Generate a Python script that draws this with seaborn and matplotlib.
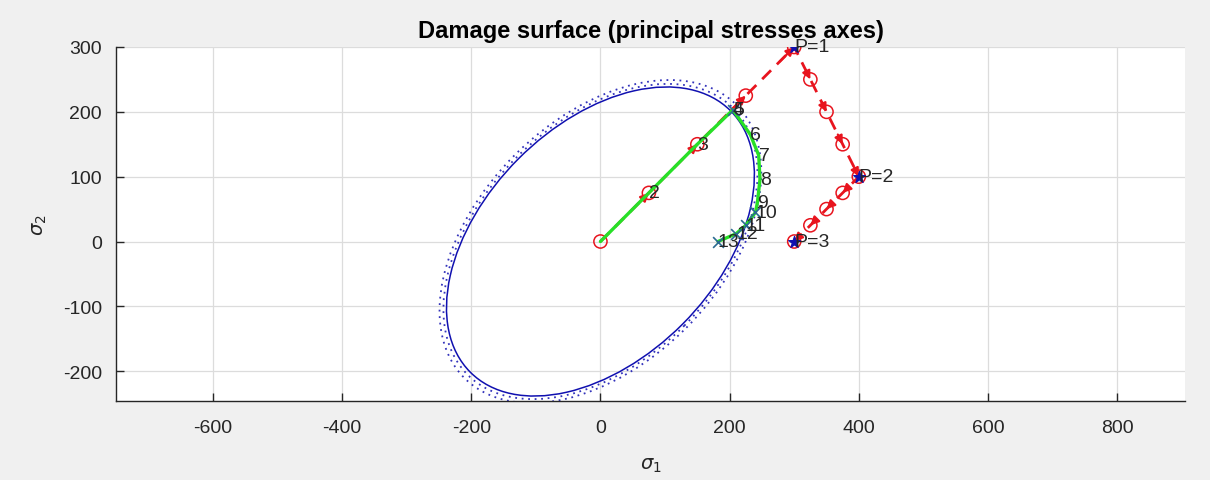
import numpy as np
import pandas as pd
import matplotlib
matplotlib.use("Agg")
import matplotlib.pyplot as plt
from matplotlib.patches import Ellipse
import seaborn as sns

# ---------------- data ----------------
# imposed load path (red circles / dashed arrows)
load_x = [0, 75, 150, 225, 300, 325, 350, 375, 400, 375, 350, 325, 300]
load_y = [0, 75, 150, 225, 300, 250, 200, 150, 100, 75, 50, 25, 0]

# peak load points
peak_labels = ["P=1", "P=2", "P=3"]
peak_x = [300, 400, 300]
peak_y = [300, 100, 0]

# computed stress path (green line) with step numbers
path_x = [0, 75, 150, 205, 205, 232, 245, 247, 243, 240, 225, 210, 182]
path_y = [0, 75, 150, 203, 203, 165, 133, 96, 60, 45, 25, 12, 0]
step_labels = ["1", "2", "3", "4", "5", "6", "7", "8", "9", "10", "11", "12", "13"]

# points where the damage surface was reached (x markers)
damage_x = [205, 240, 225, 210, 182]
damage_y = [203, 45, 25, 12, 0]

# damage surface (ellipse in principal stress plane)
ellipse_center = (0, 0)
ellipse_semi_major = 285
ellipse_semi_minor = 180
ellipse_angle = 45
dotted_scales = [1.02, 1.045]

x_ticks = [-600, -400, -200, 0, 200, 400, 600, 800]
y_ticks = [-200, -100, 0, 100, 200, 300]

# ---------------- styling ----------------
sns.set_theme(style="white")
plt.rcParams["font.family"] = ["Liberation Sans", "DejaVu Sans"]
plt.rcParams["mathtext.fontset"] = "dejavusans"

fig = plt.figure(figsize=(12.1, 4.81), dpi=100, facecolor="#f0f0f0")
ax = fig.add_axes([116 / 1210, 1 - 402 / 481, (1185 - 116) / 1210, (402 - 48) / 481])
ax.set_facecolor("white")

blue = "#1010b0"
red = "#e8141e"
green = "#27e027"
teal = "#2a6a90"
txt = "#262626"

# damage surface
ax.add_patch(Ellipse(ellipse_center, 2 * ellipse_semi_major, 2 * ellipse_semi_minor,
                     angle=ellipse_angle, fill=False, edgecolor=blue, lw=1.1, zorder=2))
for s in dotted_scales:
    ax.add_patch(Ellipse(ellipse_center, 2 * ellipse_semi_major * s, 2 * ellipse_semi_minor * s,
                         angle=ellipse_angle, fill=False, edgecolor=blue, lw=1.3, alpha=0.85,
                         linestyle=(0, (1.0, 2.6)), zorder=2))

load_df = pd.DataFrame({"x": load_x, "y": load_y})
path_df = pd.DataFrame({"x": path_x, "y": path_y})

# red dashed load path
sns.lineplot(data=load_df, x="x", y="y", sort=False, estimator=None, errorbar=None,
             ax=ax, color=red, lw=2.0, linestyle=(0, (4.5, 3)), zorder=3)
# arrow heads at each load increment
for i in range(1, len(load_x)):
    x0, y0 = load_x[i - 1], load_y[i - 1]
    x1, y1 = load_x[i], load_y[i]
    ax.annotate("", xy=(x1, y1), xytext=(x1 - 0.3 * (x1 - x0), y1 - 0.3 * (y1 - y0)),
                arrowprops=dict(arrowstyle="-|>", color=red, lw=1.6, mutation_scale=12,
                                shrinkA=0, shrinkB=0), zorder=3)
sns.scatterplot(data=load_df, x="x", y="y", ax=ax, marker="o", s=90,
                facecolor="none", edgecolor=red, linewidth=1.1, zorder=4)

# green computed path
sns.lineplot(data=path_df, x="x", y="y", sort=False, estimator=None, errorbar=None,
             ax=ax, color=green, lw=2.4, zorder=5)
ax.scatter(damage_x, damage_y, marker="x", s=60, color=teal, linewidths=1.2, zorder=6)

# peaks
ax.scatter(peak_x, peak_y, marker="*", s=80, color=blue, linewidths=0.8, zorder=6)
for lab, px, py in zip(peak_labels, peak_x, peak_y):
    ax.text(px, py, lab, ha="left", va="center", fontsize=14, color=txt, zorder=7)

for lab, px, py in zip(step_labels[1:], path_x[1:], path_y[1:]):
    ax.text(px, py, lab, ha="left", va="center", fontsize=14, color=txt, zorder=7)

# axes
ax.set_xlim(-750, 905)
ax.set_ylim(-246, 300)
ax.set_xticks(x_ticks)
ax.set_yticks(y_ticks)
ax.set_xticklabels([str(v) for v in x_ticks])
ax.set_yticklabels([str(v) for v in y_ticks])
ax.grid(True, color="#dcdcdc", lw=0.9)
ax.set_axisbelow(True)
for side in ["top", "right"]:
    ax.spines[side].set_visible(False)
for side in ["left", "bottom"]:
    ax.spines[side].set_color(txt)
    ax.spines[side].set_linewidth(1.0)
ax.tick_params(direction="in", length=6, width=1, colors=txt, labelsize=14, pad=10,
               bottom=True, left=True)
ax.tick_params(axis="x", pad=13)

ax.set_xlabel(r"$\sigma_1$", fontsize=14, color=txt, labelpad=14)
ax.set_ylabel(r"$\sigma_2$", fontsize=14, color=txt, labelpad=10)
ax.set_title("Damage surface (principal stresses axes)", fontsize=17,
             fontweight="bold", color="black", pad=7)

fig.savefig("out.png", dpi=100, facecolor=fig.get_facecolor())
